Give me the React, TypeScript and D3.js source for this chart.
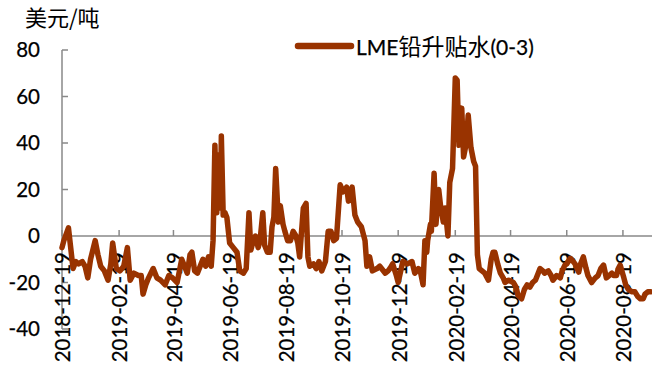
import React from 'react';
import * as d3 from 'd3';

const dates: string[] = [
  '2018-12-19','2018-12-21','2018-12-26','2018-12-31','2019-01-03','2019-01-06','2019-01-10','2019-01-13','2019-01-16','2019-01-19',
  '2019-01-24','2019-01-27','2019-01-30','2019-02-03','2019-02-07','2019-02-10','2019-02-12','2019-02-16','2019-02-20','2019-02-24',
  '2019-02-28','2019-03-03','2019-03-07','2019-03-12','2019-03-15','2019-03-17','2019-03-20','2019-03-23','2019-03-28','2019-04-01',
  '2019-04-05','2019-04-10','2019-04-14','2019-04-18','2019-04-23','2019-04-28','2019-05-02','2019-05-04','2019-05-07','2019-05-09',
  '2019-05-12','2019-05-15','2019-05-18','2019-05-21','2019-05-24','2019-05-27','2019-05-30','2019-06-01','2019-06-03','2019-06-05',
  '2019-06-06','2019-06-09','2019-06-10','2019-06-12','2019-06-14','2019-06-16','2019-06-19','2019-06-23','2019-06-27','2019-06-30',
  '2019-07-04','2019-07-07','2019-07-10','2019-07-12','2019-07-14','2019-07-17','2019-07-20','2019-07-22','2019-07-25','2019-07-27',
  '2019-07-30','2019-08-02','2019-08-04','2019-08-06','2019-08-08','2019-08-11','2019-08-13','2019-08-16','2019-08-18','2019-08-21',
  '2019-08-24','2019-08-27','2019-08-30','2019-09-01','2019-09-03','2019-09-07','2019-09-10','2019-09-12','2019-09-14','2019-09-18',
  '2019-09-21','2019-09-24','2019-09-27','2019-10-01','2019-10-04','2019-10-07','2019-10-10','2019-10-13','2019-10-17','2019-10-20',
  '2019-10-24','2019-10-26','2019-10-30','2019-11-02','2019-11-05','2019-11-09','2019-11-13','2019-11-15','2019-11-18','2019-11-21',
  '2019-11-26','2019-11-29','2019-12-05','2019-12-08','2019-12-10','2019-12-13','2019-12-17','2019-12-19','2019-12-24','2019-12-29',
  '2020-01-03','2020-01-06','2020-01-10','2020-01-12','2020-01-15','2020-01-17','2020-01-19','2020-01-20','2020-01-23','2020-01-24',
  '2020-01-27','2020-01-29','2020-02-01','2020-02-03','2020-02-06','2020-02-08','2020-02-11','2020-02-13','2020-02-16','2020-02-19',
  '2020-02-21','2020-02-23','2020-02-26','2020-02-28','2020-03-02','2020-03-04','2020-03-07','2020-03-10','2020-03-12','2020-03-14',
  '2020-03-16','2020-03-19','2020-03-22','2020-03-26','2020-03-29','2020-03-31','2020-04-02','2020-04-05','2020-04-08','2020-04-11',
  '2020-04-13','2020-04-17','2020-04-22','2020-04-25','2020-04-27','2020-05-01','2020-05-04','2020-05-07','2020-05-10','2020-05-13',
  '2020-05-16','2020-05-19','2020-05-21','2020-05-24','2020-05-26','2020-05-30','2020-06-02','2020-06-04','2020-06-08','2020-06-12',
  '2020-06-14','2020-06-17','2020-06-19','2020-06-23','2020-06-26','2020-06-28','2020-07-02','2020-07-04','2020-07-07','2020-07-10',
  '2020-07-12','2020-07-16','2020-07-20','2020-07-23','2020-07-26','2020-07-29','2020-08-01','2020-08-04','2020-08-07','2020-08-09',
  '2020-08-12','2020-08-14','2020-08-16','2020-08-20','2020-08-22','2020-08-25','2020-08-29','2020-09-01','2020-09-04','2020-09-07',
  '2020-09-10','2020-09-12','2020-09-15','2020-09-18'
];

const values: number[] = [
  -5, -2, 3.5, -14, -11, -12, -11, -13, -18, -10,
  -2, -8, -13, -15, -19, -12, -3, -14, -15, -13,
  -5, -19, -16, -17, -17, -25, -21, -18, -14, -18,
  -19, -21, -17, -18, -20, -10, -14, -16, -8, -7,
  -15, -16, -13, -10, -13, -9, -13, -2, 39, 10,
  35, 12, 43, 9, 10, 8, -3, -5, -7, -15,
  -16, -14, 10, -6, -3, 0, -5, -2, 10, -4,
  -7, -7, 4, 8, 29, 6, 13, 5, 2, -2,
  -2, 2, 0, -3, -9, 12, 14, -9, -13, -12,
  -14, -11, -15, -11, 2, 2, -2, -1, 22, 19,
  21, 15, 21, 9, 6, 4, -2, -13, -9, -15,
  -14, -13, -16, -15, -14, -12, -17, -20, -11, -12,
  -11, -16, -14, -15, -21, -2, -7, -2, 5, 2,
  27, 5, 20, 13, 6, 12, 0, 23, 29, 68,
  67, 39, 55, 34, 40, 52, 38, 32, 30, -8,
  -14, -15, -16, -19, -10, -7, -7, -12, -16, -18,
  -20, -19, -20, -22, -25.5, -27, -23, -21, -22, -20,
  -19, -16, -14, -15, -16, -15, -17, -19, -17, -18,
  -15, -12.5, -12, -9.6, -11, -12, -15.5, -12, -9, -14,
  -17, -20, -18, -17, -14, -12.5, -18, -17, -16, -17,
  -17, -14, -12.5, -18, -21, -23, -24, -24, -26, -27,
  -27, -25, -24, -24
];

const xTickLabels: string[] = [
  '2018-12-19','2019-02-19','2019-04-19','2019-06-19','2019-08-19','2019-10-19',
  '2019-12-19','2020-02-19','2020-04-19','2020-06-19','2020-08-19'
];
const yTicks: number[] = [-40, -20, 0, 20, 40, 60, 80];
const xDomain: string[] = ['2018-12-19', '2020-09-20'];
const seriesName = 'LME铅升贴水(0-3)';
const unitLabel = '美元/吨';

const LINE_COLOR = '#993300';
const AXIS_COLOR = '#898989';
const LATIN = 'Lato, "Liberation Sans", sans-serif';
const CJK = '"Noto Sans CJK SC", sans-serif';

const parse = d3.timeParse('%Y-%m-%d');

function splitText(s: string) {
  const parts: { t: string; cjk: boolean }[] = [];
  for (const ch of s) {
    const cjk = /[\u3400-\u9fff]/.test(ch);
    const last = parts[parts.length - 1];
    if (last && last.cjk === cjk) last.t += ch;
    else parts.push({ t: ch, cjk });
  }
  return parts;
}

export default function App() {
  const W = 652, H = 365;
  const x = d3.scaleTime()
    .domain([parse(xDomain[0])!, parse(xDomain[1])!])
    .range([62, 652.4]);
  const y = d3.scaleLinear().domain([-40, 80]).range([329, 50]);

  const data = dates.map((d, i) => ({ date: parse(d)!, value: values[i] }));
  const line = d3.line<{ date: Date; value: number }>()
    .x(d => x(d.date))
    .y(d => y(d.value))
    .curve(d3.curveLinear);

  const y0 = y(0);
  const legendParts = splitText(seriesName);
  const textStroke = { stroke: '#000', strokeWidth: 0.25 };

  return (
    <svg width={W} height={H} style={{ position: 'absolute', left: 0, top: 0, background: '#fff' }}>
      <rect x={0} y={0} width={W} height={H} fill="#fff" />
      {/* unit label */}
      <text x={25} y={26} fontFamily={CJK} fontSize={22} fill="#000">{unitLabel}</text>

      {/* y axis */}
      <line x1={62} x2={62} y1={y(80)} y2={y(-40)} stroke={AXIS_COLOR} strokeWidth={1.5} />
      {yTicks.map(t => (
        <g key={t}>
          <line x1={62} x2={68} y1={y(t)} y2={y(t)} stroke={AXIS_COLOR} strokeWidth={1.5} />
          <text x={40} y={y(t)} dy="0.36em" textAnchor="end" fontFamily={LATIN} fontSize={20.5} fill="#000" {...textStroke}>{t}</text>
        </g>
      ))}

      {/* x axis */}
      <line x1={62} x2={652} y1={y0} y2={y0} stroke={AXIS_COLOR} strokeWidth={1.5} />
      {xTickLabels.map(lbl => {
        const px = x(parse(lbl)!);
        return (
          <g key={lbl}>
            <line x1={px} x2={px} y1={y0} y2={y0 - 6} stroke={AXIS_COLOR} strokeWidth={1.5} />
            <text transform={`translate(${px + 1},252) rotate(-90)`} dy="0.36em" textAnchor="end"
              fontFamily={LATIN} fontSize={20.5} fill="#000" {...textStroke}>{lbl}</text>
          </g>
        );
      })}

      {/* series */}
      <path d={line(data) || ''} fill="none" stroke={LINE_COLOR} strokeWidth={5.5}
        strokeLinejoin="round" strokeLinecap="round" />

      {/* legend */}
      <line x1={298} x2={351} y1={46} y2={46} stroke={LINE_COLOR} strokeWidth={6.5} strokeLinecap="round" />
      <text x={356} y={55} fill="#000">
        {legendParts.map((p, i) => (
          <tspan key={i} fontFamily={p.cjk ? CJK : LATIN} fontSize={p.cjk ? 23 : 21}
            {...(p.cjk ? {} : textStroke)}>{p.t}</tspan>
        ))}
      </text>
    </svg>
  );
}
